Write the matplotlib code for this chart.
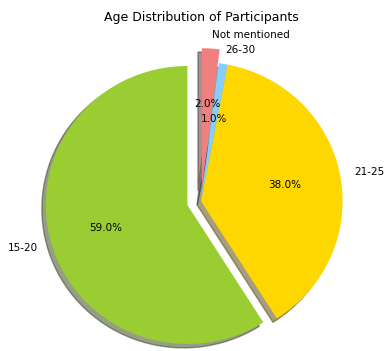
"""Pie chart of participant age groups."""
import matplotlib
matplotlib.use('Agg')
import matplotlib.pyplot as plt

labels = ['15-20', '21-25', '26-30', 'Not mentioned']
shares = [59, 38, 1, 2]
colors = ['yellowgreen', 'gold', 'lightskyblue', 'lightcoral']
explode = [0.1, 0, 0, 0.1]


def main():
    fig = plt.figure(figsize=(3.84, 3.51), dpi=100)
    # axes box slightly wider than tall, pie fills it
    ax = fig.add_axes([0.0625, -0.068, 0.922, 0.99])
    ax.pie(shares, labels=labels, colors=colors, explode=explode,
           autopct='%1.1f%%', shadow=True, startangle=90,
           textprops={'fontsize': 7.5})
    ax.set_aspect('auto')
    ax.set_xlim(-1.25, 1.25)
    ax.set_ylim(-1.25, 1.25)
    ax.set_title('Age Distribution of Participants', fontsize=9, pad=4.5)
    fig.savefig('out.png')


if __name__ == '__main__':
    main()
